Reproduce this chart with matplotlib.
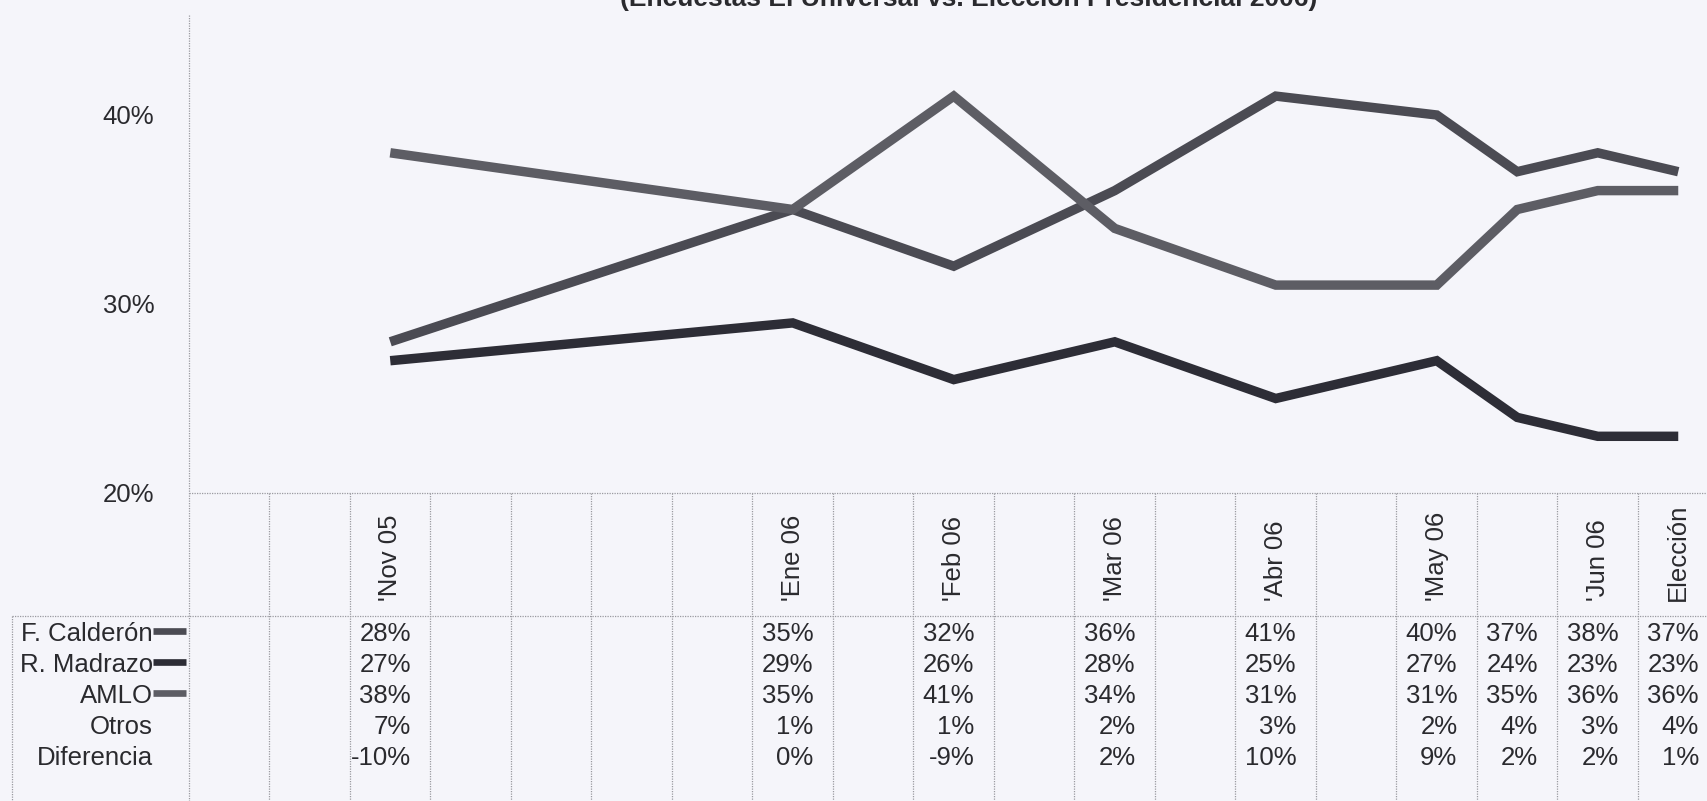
import matplotlib
matplotlib.use("Agg")
import matplotlib.pyplot as plt
from matplotlib.transforms import blended_transform_factory
from matplotlib.lines import Line2D

plt.rcParams['font.family'] = ['Liberation Sans', 'DejaVu Sans']

# ---------------- data ----------------
column_labels = ["", "", "'Nov 05", "", "", "", "", "'Ene 06", "", "'Feb 06", "",
                 "'Mar 06", "", "'Abr 06", "", "'May 06", "", "'Jun 06", "Elección"]
data_cols = [2, 7, 9, 11, 13, 15, 16, 17, 18]
calderon = [28, 35, 32, 36, 41, 40, 37, 38, 37]
madrazo = [27, 29, 26, 28, 25, 27, 24, 23, 23]
amlo = [38, 35, 41, 34, 31, 31, 35, 36, 36]
otros = [7, 1, 1, 2, 3, 2, 4, 3, 4]
diferencia = [-10, 0, -9, 2, 10, 9, 2, 2, 1]
row_names = ["F. Calderón", "R. Madrazo", "AMLO", "Otros", "Diferencia"]
yticks = [20, 30, 40]
title = "(Encuestas El Universal vs. Elección Presidencial 2006)"

# ---------------- style ----------------
BG = "#f5f5fa"
TXT = "#2a2a2e"
GRID = "#9a9aa0"
COL_CAL = "#4b4b53"
COL_MAD = "#2d2d36"
COL_AMLO = "#5d5d64"
FS = 18.5

W, H = 1708, 801
def fx(px): return px / W
def fy(py): return 1 - py / H

fig = plt.figure(figsize=(W / 100, H / 100), dpi=100, facecolor=BG)

AX_L, COLW, NCOL = 189, 80.5, len(column_labels)
Y_BOT, Y_TOP, PX_PER = 493, 15, 18.9
ax = fig.add_axes([fx(AX_L), fy(Y_BOT), COLW * NCOL / W, (Y_BOT - Y_TOP) / H])
ax.set_facecolor("none")
ax.set_xlim(-0.5, NCOL - 0.5)
ax.set_ylim(20, 20 + (Y_BOT - Y_TOP) / PX_PER)
for s in ax.spines.values():
    s.set_visible(False)
ax.set_xticks([])
ax.set_yticks(yticks)
ax.set_yticklabels([f"{v}%" for v in yticks], fontsize=FS, color=TXT)
ax.tick_params(axis="y", length=0, pad=25)

series = [(calderon, COL_CAL), (madrazo, COL_MAD), (amlo, COL_AMLO)]
for vals, c in series:
    ax.plot(data_cols, vals, color=c, lw=6.8, solid_capstyle="butt",
            solid_joinstyle="miter", clip_on=False)

trans = blended_transform_factory(ax.transData, fig.transFigure)
gkw = dict(color=GRID, lw=0.9, linestyle=(0, (1, 1)))

# axis line (left) down through table
fig.add_artist(Line2D([-0.5, -0.5], [fy(Y_TOP), 0], transform=trans, **gkw))
# plot bottom / header top
fig.add_artist(Line2D([-0.5, NCOL - 0.5], [fy(Y_BOT), fy(Y_BOT)], transform=trans, **gkw))
# column separators
for k in range(1, NCOL):
    fig.add_artist(Line2D([k - 0.5, k - 0.5], [fy(Y_BOT), 0], transform=trans, **gkw))
# header bottom / table top
HDR_BOT = 616
fig.add_artist(Line2D([fx(12), 1], [fy(HDR_BOT), fy(HDR_BOT)], transform=fig.transFigure, **gkw))
fig.add_artist(Line2D([fx(12), fx(12)], [fy(HDR_BOT), 0], transform=fig.transFigure, **gkw))

# header labels
for k, lab in enumerate(column_labels):
    if lab:
        fig.text(k, fy(601), lab, transform=trans, rotation=90, ha="center",
                 va="bottom", fontsize=FS, color=TXT)

# table rows
row_centers = [632, 663, 694, 725, 756]
rows = [calderon, madrazo, amlo, otros, diferencia]
keys = [COL_CAL, COL_MAD, COL_AMLO, None, None]
for name, vals, key, yc in zip(row_names, rows, keys, row_centers):
    yb = fy(yc + 9)
    fig.text(fx(153), yb, name, ha="right", va="baseline", fontsize=FS, color=TXT)
    if key:
        fig.add_artist(Line2D([fx(153), fx(186)], [fy(yc - 1), fy(yc - 1)],
                              transform=fig.transFigure, color=key, lw=4.8,
                              solid_capstyle="butt"))
    for k, v in zip(data_cols, vals):
        fig.text(k + 0.5 - 19.5 / COLW, yb, f"{v}%", transform=trans, ha="right",
                 va="baseline", fontsize=FS, color=TXT)

# title (cut at the top of the scan)
fig.text(fx(969), fy(6), title, ha="center", va="baseline", fontsize=19,
         fontweight="bold", color=TXT)

fig.savefig("out.png", dpi=100, facecolor=BG)
